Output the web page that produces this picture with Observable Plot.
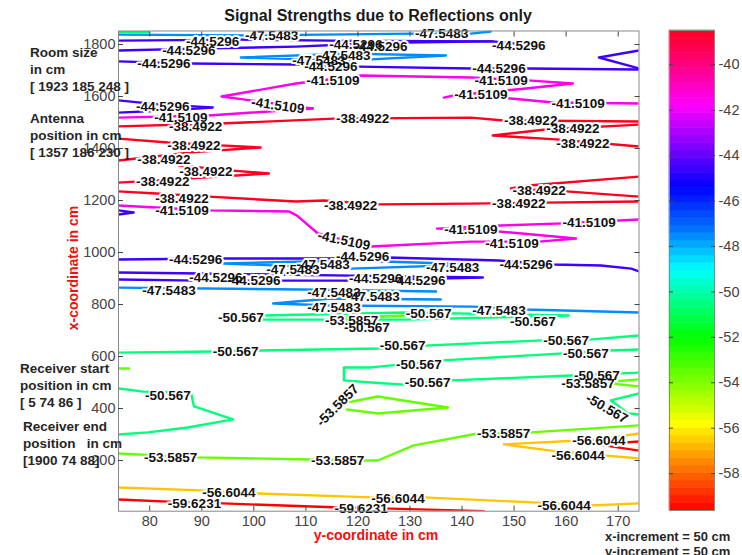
<!DOCTYPE html>
<html>
<head>
<meta charset="utf-8">
<script src="https://cdn.jsdelivr.net/npm/d3@7"></script>
<script src="https://cdn.jsdelivr.net/npm/@observablehq/plot@0.6"></script>
<style>
  html, body { margin: 0; padding: 0; background: #fff; }
  #chart { position: relative; width: 742px; height: 555px; overflow: hidden;
           font-family: "Liberation Sans", Arial, Helvetica, sans-serif; color: #222; }
  #chart > * { position: absolute; }
  .title { left: 7px; top: 6px; width: 742px; text-align: center; font-size: 16px; line-height: 20px; font-weight: bold; color: #1a1a1a; }
  .note { font-weight: bold; font-size: 13.5px; line-height: 17px; white-space: pre; color: #262626; }
  .axlabel { color: #ee1111; font-weight: bold; font-size: 14px; white-space: nowrap; transform: translate(-50%, -50%); }
  .inc { font-weight: bold; font-size: 13px; line-height: 15px; white-space: pre; color: #262626; }
</style>
</head>
<body>
<div id="chart"></div>
<script>
// Contour levels of the reflected signal strength
const levels = [-38.4922, -41.5109, -44.5296, -47.5483, -50.567, -53.5857, -56.6044, -59.6231];

// Contour polylines per level, as [y-coordinate, x-coordinate] pairs in cm
const lines38 = [
  [[74,1485],[93.6,1496],[115.4,1515],[141.7,1519],[148,1508],[174,1504]],
  [[174,1492],[156.1,1473],[145.9,1450],[158,1435],[174,1408]],
  [[74,1438],[83.5,1423],[93.6,1412],[101.3,1404],[87.9,1385],[74,1354]],
  [[74,1269],[87.9,1285],[102.9,1304],[96,1315],[85.6,1335]],
  [[74,1235],[81.2,1227],[91.3,1215],[108.1,1196],[113.4,1200],[123.8,1185],[141.7,1188],[156.1,1192],[174,1196]],
  [[174,1292],[152.8,1258],[149.4,1246],[160,1235],[174,1215]]
];
const lines41 = [
  [[111.3,1554],[99.4,1585],[93.8,1600],[108.1,1650],[120.6,1681],[141.7,1673],[152.6,1662],[161.3,1650],[152.3,1631],[138.4,1604],[136.5,1596]],
  [[74,1519],[91.3,1527],[111.3,1554]],
  [[147.5,1596],[157.5,1577],[174,1573]],
  [[74,1181],[81.2,1173],[91.3,1162],[106.7,1158],[108.3,1142],[112.3,1073],[117.7,1046],[122.5,1023],[141.7,1042],[154.8,1042],[161.9,1054],[147.1,1081],[135.2,1092],[147.5,1104],[159.4,1112],[174,1127]]
];
const lines44 = [
  [[74,1815],[96.9,1819],[114.8,1815],[145.9,1812],[156.1,1792]],
  [[74,1777],[91.3,1785],[108.1,1792],[117.7,1800],[128.8,1808],[145.9,1812]],
  [[74,1735],[87.5,1727],[108.1,1723],[120,1715],[141.7,1708],[152.3,1708],[174,1704]],
  [[174,1777],[166.3,1750],[174,1708]],
  [[74,1585],[82.1,1569],[92.1,1558],[83.1,1546],[74,1538]],
  [[74,1162],[76.9,1154],[74,1146]],
  [[74,973],[94,977],[115.7,977],[125.7,981],[147.1,969],[157.5,954],[166.7,950],[172.5,938],[174,927]],
  [[74,923],[89.8,919],[118.6,911],[144,904],[118.6,892],[89.8,892],[74,896]]
];
const lines47 = [
  [[74,1838],[98.5,1835],[130.7,1842],[141.7,1842],[145.5,1850]],
  [[97.5,1750],[117.7,1765],[136.9,1758],[117.7,1738],[97.5,1750]],
  [[94.2,958],[118.6,969],[143.2,954],[118.6,938],[94.2,958]],
  [[74,865],[109,858],[135,850]],
  [[135.9,819],[114.8,823],[103.7,804],[114.8,796],[142.1,792],[152.3,781],[174,769]]
];
const lines50 = [
  [[74,1847],[79.8,1847]],
  [[101.7,758],[129.2,769],[160.5,758],[129.2,742],[101.7,742],[101.7,758]],
  [[74,615],[92.1,619],[101,623],[124,631],[132.7,642],[155.5,662],[164.4,665],[174,681]],
  [[174,627],[168.2,623],[159.4,612],[136.3,585],[122.5,558],[117.3,558],[117.3,508],[122.5,500],[128.8,492],[137.9,508],[160.9,527],[174,538]],
  [[174,458],[168.6,431],[171.9,381],[174,377]],
  [[74,477],[78.8,465],[87.9,462],[88.5,408],[96,358],[87.3,327],[79.6,308],[74,300]]
];
const lines53 = [
  [[74,554],[76,554]],
  [[117.7,750],[129.2,758],[117.7,746]],
  [[117.9,423],[123.8,446],[137.3,404],[123.8,381],[117.9,396]],
  [[174,512],[166.7,500],[174,485]],
  [[74,227],[89.2,212],[110.9,204],[121.1,200],[123.8,200],[130.7,258],[143,304],[153.2,308],[174,335]]
];
const lines56 = [
  [[174,304],[166.3,281],[148,262],[157.1,238],[167.3,219],[174,208]],
  [[74,96],[89.8,85],[100.8,73],[122.5,58],[132.7,58],[154.6,38],[164.8,27],[174,35]]
];
const lines59 = [
  [[174,273],[166.1,262],[174,238]],
  [[74,50],[83.5,42],[94,35],[116.7,19],[126.3,15],[144.2,5]]
];

// Inline contour labels per level: [y-coordinate, x-coordinate, rotation in degrees]
const labels38 = [[88.8,1485,0],[120.9,1515,0],[153.2,1508,0],[161.3,1477,0],[163.2,1419,0],[88.5,1412,0],[82.7,1358,0],[90.8,1312,0],[82.5,1273,0],[86.2,1208,0],[118.6,1181,0],[150.9,1188,0],[154.8,1238,0]];
const labels41 = [[115.2,1662,0],[147.5,1662,0],[143.6,1608,0],[104.6,1565,8],[86,1519,0],[162.3,1573,0],[86.2,1162,0],[117.3,1046,12],[141.7,1088,0],[149.6,1035,0],[164.4,1115,0]];
const labels44 = [[92.1,1811,0],[87.5,1777,0],[82.7,1727,0],[119.6,1800,0],[124.4,1792,0],[114.8,1715,0],[150.9,1796,0],[147.1,1708,0],[82.5,1562,0],[88.8,973,0],[120.9,985,0],[152.3,954,0],[92.7,904,0],[100,892,0],[123.4,900,0],[131.7,892,0]];
const labels47 = [[103.4,1835,0],[136.1,1842,0],[112.5,1738,0],[117.3,1758,0],[107.5,935,0],[113.3,954,0],[138.2,942,0],[83.7,854,0],[115.4,846,0],[122.9,831,0],[115.4,788,0],[147.1,777,0]];
const labels50 = [[97.5,750,0],[121.7,712,0],[133.6,765,0],[153.6,735,0],[96.5,619,0],[128.6,642,0],[160,662,0],[131.7,569,0],[163.8,612,0],[133.4,500,0],[165.9,527,0],[167.8,400,30],[83.5,450,0]];
const labels53 = [[118.8,738,0],[164.2,496,0],[116.1,412,-45],[84,212,0],[116.1,200,0],[148,304,0]];
const labels56 = [[166.3,277,0],[162.3,219,0],[95.2,77,0],[127.7,54,0],[159.6,27,0]];
const labels59 = [[88.6,35,0],[120.6,15,0]];

// Axis ticks
const xTicks = [80, 90, 100, 110, 120, 130, 140, 150, 160, 170];
const yTicks = [200, 400, 600, 800, 1000, 1200, 1400, 1600, 1800];
const cbTicks = [-58, -56, -54, -52, -50, -48, -46, -44, -42, -40];

// Colormap stops: red - magenta - blue - cyan - green - yellow - red
const cmapValues = [-59.6231, -57.6, -55.8, -54, -52, -50.5, -49, -47.2, -45.4, -43.6, -41.8, -40, -38.4922];
const cmapColors = ["#ff0000", "#ff8000", "#ffff00", "#80ff00", "#00ff00", "#00ff80", "#00ffff", "#0070ff", "#0000ff", "#8000ff", "#ff00ff", "#ff0080", "#ff0020"];

const lineSets = [lines38, lines41, lines44, lines47, lines50, lines53, lines56, lines59];
const labelSets = [labels38, labels41, labels44, labels47, labels50, labels53, labels56, labels59];

const lineRows = [];
levels.forEach((level, i) => lineSets[i].forEach((path, k) =>
  path.forEach(([h, v]) => lineRows.push({level, id: `${i}-${k}`, h, v}))));
const labelRows = [];
levels.forEach((level, i) => labelSets[i].forEach(([h, v, angle]) =>
  labelRows.push({level, h, v, angle})));

const color = {type: "linear", domain: cmapValues, range: cmapColors};
const font = "'Liberation Sans', Arial, Helvetica, sans-serif";
// plain ASCII hyphen-minus and no thousands separator
const fmt = (d) => String(d);

const main = Plot.plot({
  width: 655, height: 555,
  marginLeft: 118, marginRight: 16.5, marginTop: 30.5, marginBottom: 44.3,
  style: {fontFamily: font, fontSize: "14.5px", color: "#333", background: "transparent"},
  x: {domain: [74, 174]},
  y: {domain: [5, 1852]},
  color,
  marks: [
    Plot.line(lineRows, {x: "h", y: "v", z: "id", stroke: "level", strokeWidth: 2.4,
      strokeLinejoin: "round", strokeLinecap: "round", clip: true}),
    Plot.text(labelRows, {x: "h", y: "v", text: (d) => fmt(d.level), rotate: "angle",
      fontSize: 13.5, fontWeight: "bold", fill: "white", stroke: "white", strokeWidth: 4}),
    Plot.text(labelRows, {x: "h", y: "v", text: (d) => fmt(d.level), rotate: "angle",
      fontSize: 13.5, fontWeight: "bold", fill: "#111"}),
    Plot.frame({stroke: "#888"}),
    Plot.axisX(xTicks, {anchor: "bottom", tickSize: -5, tickPadding: 10, fontSize: 14.5, color: "#444", tickFormat: fmt, label: null}),
    Plot.axisX(xTicks, {anchor: "top", tickSize: -5, tickFormat: () => "", color: "#444", label: null}),
    Plot.axisY(yTicks, {anchor: "left", tickSize: -5, tickPadding: 8, fontSize: 14.5, color: "#444", tickFormat: fmt, label: null}),
    Plot.axisY(yTicks, {anchor: "right", tickSize: -5, tickFormat: () => "", color: "#444", label: null})
  ]
});

// Colour bar: the colormap drawn as 64 stepped bands
const cmin = levels[levels.length - 1], cmax = levels[0];
const step = (cmax - cmin) / 64;
const bands = d3.range(64).map((i) => cmin + i * step);
const bar = Plot.plot({
  width: 87, height: 555,
  marginLeft: 14, marginRight: 28, marginTop: 30, marginBottom: 45,
  style: {fontFamily: font, fontSize: "14.5px", color: "#333", background: "transparent"},
  x: {domain: [0, 1], axis: null},
  y: {domain: [cmin, cmax]},
  color,
  marks: [
    Plot.rect(bands, {x1: 0, x2: 1, y1: (d) => d, y2: (d) => d + step, fill: (d) => d + step / 2,
      stroke: (d) => d + step / 2, strokeWidth: 0.6}),
    Plot.frame({stroke: "#888"}),
    Plot.axisY(cbTicks, {anchor: "right", tickSize: -4, tickPadding: 8, fontSize: 14.5, color: "#444", tickFormat: fmt, label: null}),
    Plot.axisY(cbTicks, {anchor: "left", tickSize: -4, tickFormat: () => "", color: "#444", label: null})
  ]
});

const chart = document.getElementById("chart");
main.style.left = "0px"; main.style.top = "0px";
bar.style.left = "655px"; bar.style.top = "0px";
chart.append(main, bar);

const addText = (cls, text, css) => {
  const el = document.createElement("div");
  el.className = cls;
  el.textContent = text;
  Object.assign(el.style, css);
  chart.append(el);
};
addText("title", "Signal Strengths due to Reflections only", {});
addText("note", "Room size\nin cm\n[ 1923 185 248 ]", {left: "30px", top: "43.5px"});
addText("note", "Antenna\nposition in cm\n[ 1357 186 230 ]", {left: "30px", top: "109.5px"});
addText("note", "Receiver start\nposition in cm\n[ 5 74 86 ]", {left: "20px", top: "359.5px"});
addText("note", "Receiver end\nposition   in cm\n[1900 74 88]", {left: "23px", top: "417.5px"});
addText("axlabel", "x-coordinate in cm", {left: "73px", top: "268px", transform: "translate(-50%, -50%) rotate(-90deg)"});
addText("axlabel", "y-coordinate in cm", {left: "376px", top: "535px"});
addText("inc", "x-increment = 50 cm\ny-increment = 50 cm", {left: "605px", top: "529px"});
</script>
</body>
</html>
